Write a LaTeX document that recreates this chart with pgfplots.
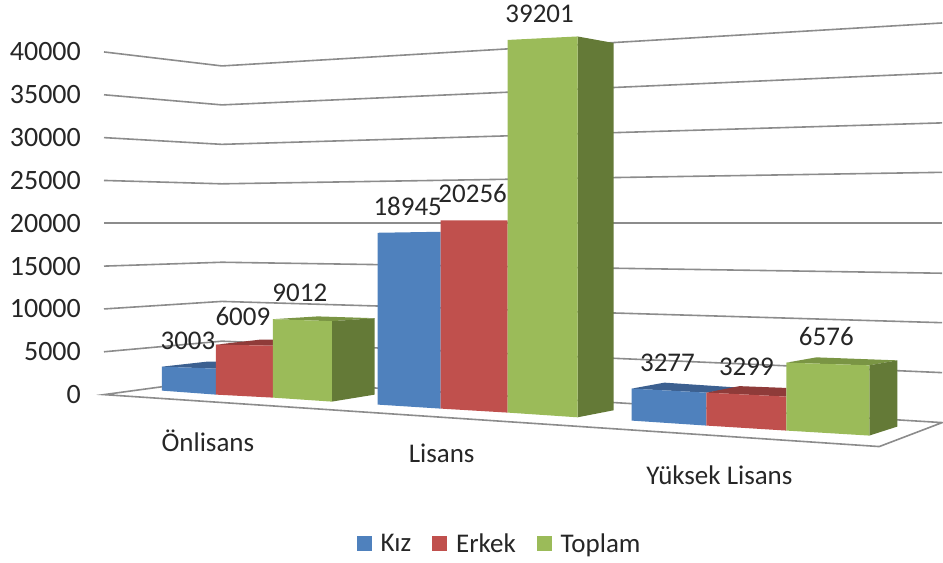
\documentclass[border=0pt]{standalone}
\usepackage{fontspec}
\setmainfont{Carlito}
\usepackage{pgfplots}
\pgfplotsset{compat=1.18}
\definecolor{cblue}{HTML}{4F81BD}
\definecolor{cbluetop}{HTML}{3C6090}
\definecolor{cred}{HTML}{C0504D}
\definecolor{credtop}{HTML}{8F3B39}
\definecolor{cgreen}{HTML}{9BBB59}
\definecolor{cgreentop}{HTML}{7A9544}
\definecolor{cgreenside}{HTML}{647A37}
\definecolor{cgrid}{HTML}{8C8C8C}
\definecolor{ctext}{HTML}{262626}
\newcommand{\biglabel}{\fontsize{27bp}{29bp}\selectfont\color{ctext}}
\newcommand{\ticklabel}{\fontsize{28bp}{30bp}\selectfont\color{ctext}}
\pgfplotsset{gl/.style={draw=cgrid,line width=1.6bp,forget plot}}
\begin{document}
\begin{tikzpicture}[
  vl/.style={anchor=center,inner sep=0pt,font=\biglabel}]
\begin{axis}[
  scale only axis, width=943bp, height=563bp,
  xmin=0, xmax=943, ymin=-19592, ymax=46064,
  axis line style={draw=none}, clip=false,
  xtick=\empty,
  ytick={0,5000,10000,15000,20000,25000,30000,35000,40000},
  major tick length=0pt,
  scaled y ticks=false,
  y tick label style={/pgf/number format/set thousands separator={},
    /pgf/number format/assume math mode=true,
    font=\ticklabel, anchor=east, xshift=81bp, inner sep=0pt},
  legend style={at={(axis cs:500,-17376)},anchor=center,draw=none,fill=none,
    font=\biglabel, legend columns=3, inner sep=0pt, outer sep=0pt,
    /tikz/every odd column/.append style={column sep=8bp},
    /tikz/every even column/.append style={column sep=19bp}},
  legend cell align=left,
]
\addlegendimage{only marks,mark=square*,mark size=7bp,color=cblue}
\addlegendentry{Kız}
\addlegendimage{only marks,mark=square*,mark size=7bp,color=cred}
\addlegendentry{Erkek}
\addlegendimage{only marks,mark=square*,mark size=7bp,color=cgreen}
\addlegendentry{Toplam}
% grid walls
\addplot[gl] coordinates {(104,40000) (222,38367) (943,43382)};
\addplot[gl] coordinates {(104,35000) (222,33819) (943,37551)};
\addplot[gl] coordinates {(104,30000) (222,29213) (943,31720)};
\addplot[gl] coordinates {(104,25000) (222,24606) (943,25948)};
\addplot[gl] coordinates {(104,20000) (222,20000) (943,20000)};
\addplot[gl] coordinates {(104,15000) (222,15452) (943,14169)};
\addplot[gl] coordinates {(104,10000) (222,10880) (943,8396)};
\addplot[gl] coordinates {(104,5000) (222,6239) (943,2566)};
% floor
\addplot[gl,fill=white] coordinates {(104,0) (222,1866) (943,-3265) (880,-6064)} -- cycle;
% Onlisans: Kiz 3003
\addplot[fill=cbluetop,draw=none,forget plot] coordinates {(162,3265) (207,3848) (216,3848) (216,3032)} -- cycle;
\addplot[fill=cblue,draw=none,forget plot] coordinates {(162,3265) (216,3032) (216,0) (162,466)} -- cycle;
% Onlisans: Erkek 6009
\addplot[fill=credtop,draw=none,forget plot] coordinates {(216,5831) (260,6414) (273,6414) (273,5714)} -- cycle;
\addplot[fill=cred,draw=none,forget plot] coordinates {(216,5831) (273,5714) (273,-350) (216,0)} -- cycle;
% Onlisans: Toplam 9012
\addplot[fill=cgreentop,draw=none,forget plot] coordinates {(273,8805) (318,9131) (375,8921) (332,8571)} -- cycle;
\addplot[fill=cgreenside,draw=none,forget plot] coordinates {(332,8571) (375,8921) (375,0) (332,-816)} -- cycle;
\addplot[fill=cgreen,draw=none,forget plot] coordinates {(273,8805) (332,8571) (332,-816) (273,-350)} -- cycle;
% Lisans: Kiz 18945
\addplot[fill=cblue,draw=none,forget plot] coordinates {(378,18892) (441,19009) (441,-1633) (378,-1166)} -- cycle;
% Lisans: Erkek 20256
\addplot[fill=cred,draw=none,forget plot] coordinates {(441,20350) (508,20350) (508,-2099) (441,-1633)} -- cycle;
% Lisans: Toplam 39201
\addplot[fill=cgreenside,draw=none,forget plot] coordinates {(578,41808) (614,41050) (614,-1831) (578,-2647)} -- cycle;
\addplot[fill=cgreen,draw=none,forget plot] coordinates {(508,41399) (578,41808) (578,-2647) (508,-2099)} -- cycle;
% Yuksek Lisans: Kiz 3277
\addplot[fill=cbluetop,draw=none,forget plot] coordinates {(632,700) (665,1399) (740,816) (707,233)} -- cycle;
\addplot[fill=cblue,draw=none,forget plot] coordinates {(632,700) (707,233) (707,-3615) (632,-3032)} -- cycle;
% Yuksek Lisans: Erkek 3299
\addplot[fill=credtop,draw=none,forget plot] coordinates {(707,233) (740,991) (787,781) (787,-233)} -- cycle;
\addplot[fill=cred,draw=none,forget plot] coordinates {(707,233) (787,-233) (787,-4198) (707,-3615)} -- cycle;
% Yuksek Lisans: Toplam 6576
\addplot[fill=cgreentop,draw=none,forget plot] coordinates {(787,3732) (817,4350) (898,4000) (870,3417)} -- cycle;
\addplot[fill=cgreenside,draw=none,forget plot] coordinates {(870,3417) (898,4000) (898,-3732) (870,-4781)} -- cycle;
\addplot[fill=cgreen,draw=none,forget plot] coordinates {(787,3732) (870,3417) (870,-4781) (787,-4198)} -- cycle;
% value labels
\node[vl] at (axis cs:188,6332) {3003};
\node[vl] at (axis cs:243,9131) {6009};
\node[vl] at (axis cs:300,11895) {9012};
\node[vl] at (axis cs:408,21924) {18945};
\node[vl] at (axis cs:473,23440) {20256};
\node[vl] at (axis cs:540,44431) {39201};
\node[vl] at (axis cs:668,3732) {3277};
\node[vl] at (axis cs:747,3265) {3299};
\node[vl] at (axis cs:827,6764) {6576};
% category labels
\node[vl] at (axis cs:208,-5364) {Önlisans};
\node[vl] at (axis cs:442,-6880) {Lisans};
\node[vl] at (axis cs:720,-9446) {Yüksek Lisans};
\end{axis}
\end{tikzpicture}
\end{document}
